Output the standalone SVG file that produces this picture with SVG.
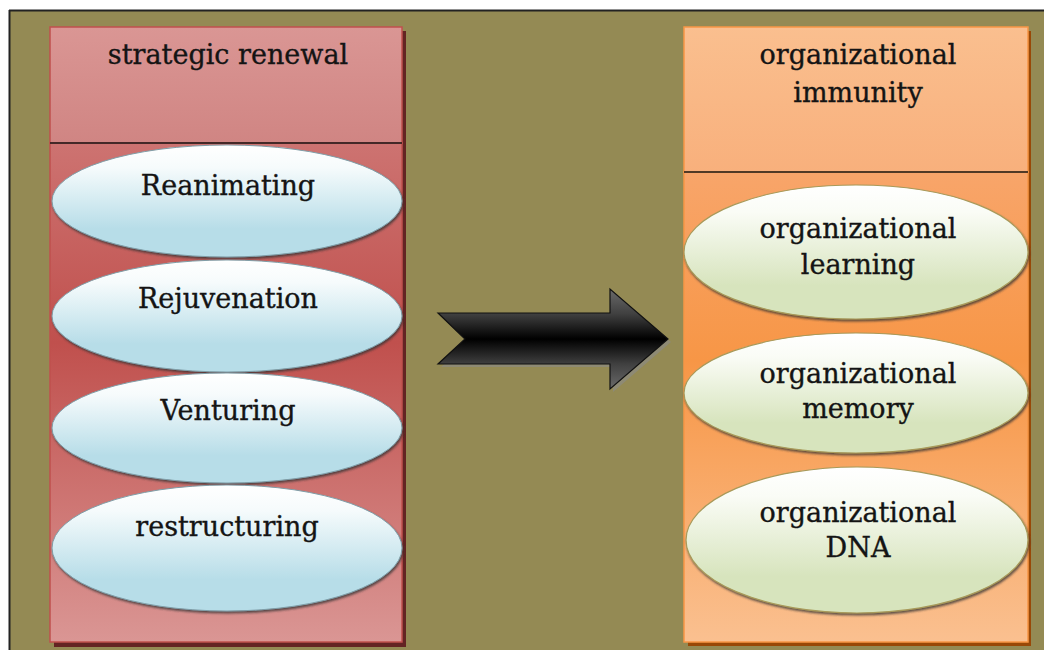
<svg xmlns="http://www.w3.org/2000/svg" width="1044" height="650" viewBox="0 0 1044 650">
  <defs>
    <linearGradient id="lhead" x1="0" y1="0" x2="0" y2="1">
      <stop offset="0" stop-color="#da9694"/>
      <stop offset="1" stop-color="#d08583"/>
    </linearGradient>
    <linearGradient id="lbody" x1="0" y1="0" x2="0" y2="1">
      <stop offset="0" stop-color="#cd7371"/>
      <stop offset="0.4" stop-color="#c0504d"/>
      <stop offset="1" stop-color="#da9694"/>
    </linearGradient>
    <linearGradient id="rhead" x1="0" y1="0" x2="0" y2="1">
      <stop offset="0" stop-color="#fabf8f"/>
      <stop offset="1" stop-color="#f8b07c"/>
    </linearGradient>
    <linearGradient id="rbody" x1="0" y1="0" x2="0" y2="1">
      <stop offset="0" stop-color="#f8a56a"/>
      <stop offset="0.4" stop-color="#f79646"/>
      <stop offset="1" stop-color="#fac090"/>
    </linearGradient>
    <linearGradient id="blueEll" x1="0" y1="0" x2="0" y2="1">
      <stop offset="0" stop-color="#ffffff"/>
      <stop offset="0.2" stop-color="#f6fbfc"/>
      <stop offset="0.75" stop-color="#b7dde8"/>
      <stop offset="1" stop-color="#b7dde8"/>
    </linearGradient>
    <linearGradient id="greenEll" x1="0" y1="0" x2="0" y2="1">
      <stop offset="0" stop-color="#ffffff"/>
      <stop offset="0.2" stop-color="#fafcf6"/>
      <stop offset="0.75" stop-color="#d7e4bd"/>
      <stop offset="1" stop-color="#d7e4bd"/>
    </linearGradient>
    <linearGradient id="arrowGrad" gradientUnits="userSpaceOnUse" x1="0" y1="289" x2="0" y2="389">
      <stop offset="0" stop-color="#6a6a6a"/>
      <stop offset="0.25" stop-color="#404040"/>
      <stop offset="0.5" stop-color="#000000"/>
      <stop offset="0.75" stop-color="#404040"/>
      <stop offset="1" stop-color="#6a6a6a"/>
    </linearGradient>
    <filter id="shadow" x="-10%" y="-10%" width="120%" height="130%">
      <feDropShadow dx="1" dy="2" stdDeviation="1.2" flood-color="#333333" flood-opacity="0.75"/>
    </filter>
  </defs>
  <style>
    .lbl { font-family: "DejaVu Serif", "Liberation Serif", serif; font-size: 27px; fill: #141414; stroke: #141414; stroke-width: 0.35; text-anchor: middle; }
    .lpanel { stroke: #c0504d; stroke-width: 1.5; }
    .rpanel { stroke: #f79646; stroke-width: 1.5; }
    .divider { stroke: #1a1a1a; stroke-width: 1.5; }
    .bell { fill: url(#blueEll); stroke: #7f9ea8; stroke-width: 1; filter: url(#shadow); }
    .gell { fill: url(#greenEll); stroke: #a89a5a; stroke-width: 1.2; filter: url(#shadow); }
  </style>

  <!-- background frame -->
  <rect x="0" y="0" width="1044" height="650" fill="#ffffff"/>
  <rect x="9" y="10" width="1035" height="640" fill="#948a54"/>
  <line x1="9.5" y1="10" x2="9.5" y2="650" stroke="#222222" stroke-width="2"/>
  <line x1="9" y1="10.5" x2="1044" y2="10.5" stroke="#222222" stroke-width="2"/>

  <!-- left panel -->
  <g id="strategic-renewal">
    <rect x="54" y="31" width="352" height="616" fill="#632423"/>
    <rect class="lpanel" x="50" y="27" width="352" height="116" fill="url(#lhead)"/>
    <rect class="lpanel" x="50" y="143" width="352" height="499" fill="url(#lbody)"/>
    <line class="divider" x1="50" y1="143" x2="402" y2="143"/>
    <text class="lbl" x="228" y="64">strategic renewal</text>
  </g>

  <!-- right panel -->
  <g id="organizational-immunity">
    <rect x="688" y="31" width="343" height="615" fill="#984807"/>
    <rect class="rpanel" x="684" y="27" width="344" height="145" fill="url(#rhead)"/>
    <rect class="rpanel" x="684" y="172" width="344" height="470" fill="url(#rbody)"/>
    <line class="divider" x1="684" y1="172" x2="1028" y2="172"/>
    <text class="lbl" x="858" y="64">organizational</text>
    <text class="lbl" x="858" y="102">immunity</text>
  </g>

  <!-- left ellipses -->
  <g id="reanimating">
    <ellipse class="bell" cx="227" cy="201" rx="175" ry="56"/>
    <text class="lbl" x="228" y="195">Reanimating</text>
  </g>
  <g id="rejuvenation">
    <ellipse class="bell" cx="227" cy="316" rx="175" ry="56"/>
    <text class="lbl" x="228" y="308">Rejuvenation</text>
  </g>
  <g id="venturing">
    <ellipse class="bell" cx="227" cy="428" rx="175" ry="55"/>
    <text class="lbl" x="228" y="420">Venturing</text>
  </g>
  <g id="restructuring">
    <ellipse class="bell" cx="227" cy="548" rx="175" ry="63"/>
    <text class="lbl" x="227" y="536">restructuring</text>
  </g>

  <!-- right ellipses -->
  <g id="organizational-learning">
    <ellipse class="gell" cx="856" cy="252" rx="172" ry="67"/>
    <text class="lbl" x="858" y="238">organizational</text>
    <text class="lbl" x="858" y="274">learning</text>
  </g>
  <g id="organizational-memory">
    <ellipse class="gell" cx="856" cy="393" rx="172" ry="60"/>
    <text class="lbl" x="858" y="383">organizational</text>
    <text class="lbl" x="858" y="418">memory</text>
  </g>
  <g id="organizational-dna">
    <ellipse class="gell" cx="857" cy="540" rx="171" ry="73"/>
    <text class="lbl" x="858" y="522">organizational</text>
    <text class="lbl" x="858" y="557">DNA</text>
  </g>

  <!-- connector -->
  <g id="connectors">
    <polygon points="441,316 613,316 613,292 671,342 613,392 613,367 441,367 468,342" fill="#8a8a8a" opacity="0.6"/>
    <polygon points="438,313 610,313 610,289 668,339 610,389 610,364 438,364 465,339" fill="url(#arrowGrad)" stroke="#111111" stroke-width="1.2" stroke-linejoin="miter"/>
  </g>
</svg>
